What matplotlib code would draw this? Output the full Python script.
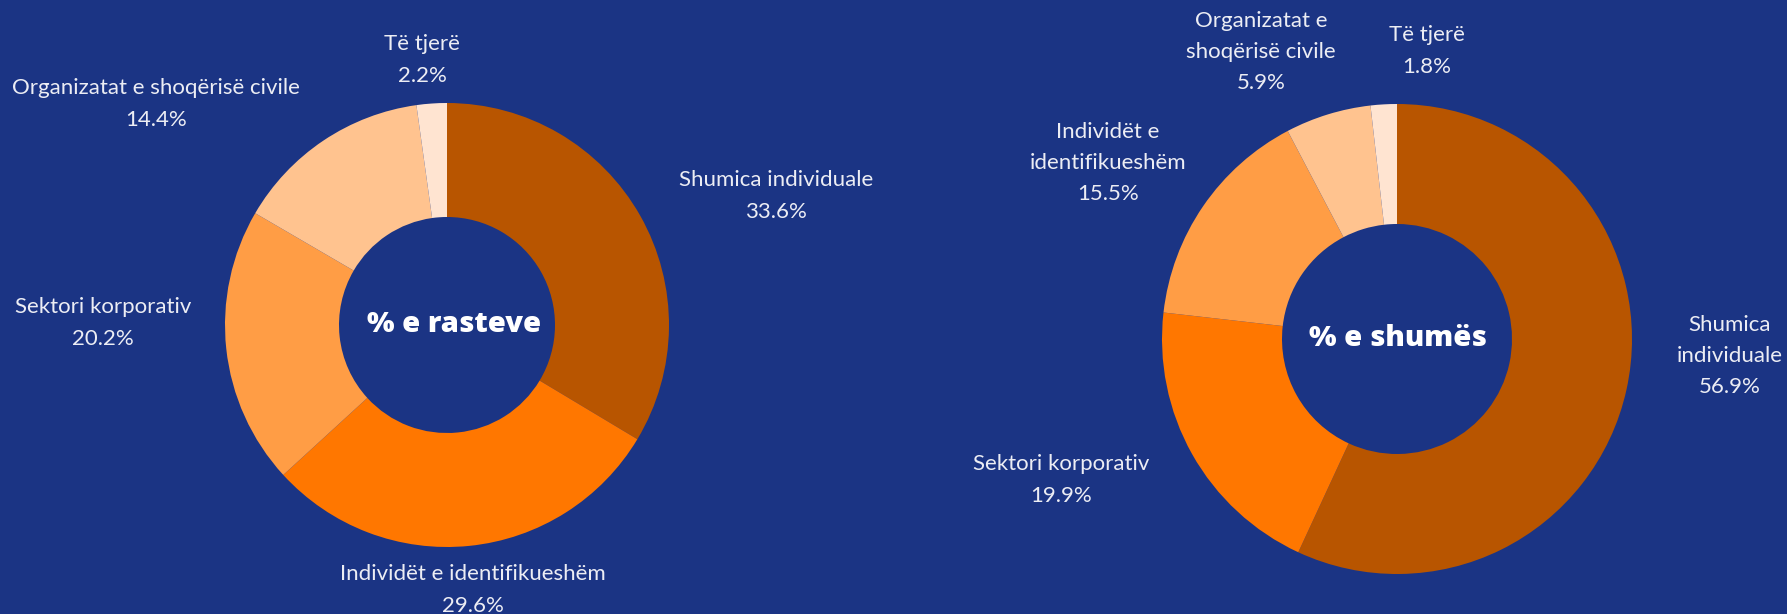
import matplotlib.pyplot as plt

# values
cases_labels = ['Shumica individuale', 'Individët e identifikueshëm', 'Sektori korporativ',
                'Organizatat e shoqërisë civile', 'Të tjerë']
cases_values = [33.6, 29.6, 20.2, 14.4, 2.2]

amount_labels = ['Shumica\nindividuale', 'Sektori korporativ', 'Individët e\nidentifikueshëm',
                 'Organizatat e\nshoqërisë civile', 'Të tjerë']
amount_values = [56.9, 19.9, 15.5, 5.9, 1.8]

center_titles = ['% e rasteve', '% e shumës']

BG = '#1b3484'
TXT = '#ecedf4'
COLORS = ['#b85500', '#ff7700', '#ff9d45', '#ffc38f', '#ffe4d1']
W, H = 1787, 614

# layout in pixels, y from the top; label offsets relative to the donut centre
charts = [
    dict(labels=cases_labels, values=cases_values, title=center_titles[0],
         cx=447, cy=325, r=222, hole=108, tdx=7,
         offs=[(329, -129), (26, 265), (-344, -2), (-291, -221), (-25, -265)]),
    dict(labels=amount_labels, values=amount_values, title=center_titles[1],
         cx=1397, cy=339, r=235, hole=115, tdx=1,
         offs=[(333, 17), (-336, 141), (-289, -176), (-136, -287), (30, -288)]),
]

fig = plt.figure(figsize=(W / 100, H / 100), dpi=100, facecolor=BG)
ax = fig.add_axes([0, 0, 1, 1])
ax.set_facecolor(BG)

for c in charts:
    center = (c['cx'], H - c['cy'])
    ax.pie(c['values'], colors=COLORS, startangle=90, counterclock=False,
           center=center, radius=c['r'],
           wedgeprops=dict(width=c['r'] - c['hole'], linewidth=0))
    ax.text(center[0] + c['tdx'], center[1], c['title'], ha='center', va='center',
            color='white', fontsize=21, fontweight='heavy', family=['Open Sans', 'DejaVu Sans'])
    for lab, val, (dx, dy) in zip(c['labels'], c['values'], c['offs']):
        ax.text(center[0] + dx, center[1] - dy, f'{lab}\n{val}%', ha='center', va='center',
                multialignment='center', linespacing=1.7, color=TXT, fontsize=16,
                family=['Lato', 'DejaVu Sans'])

ax.set_xlim(0, W)
ax.set_ylim(0, H)
ax.set_aspect('equal')
ax.axis('off')

fig.savefig('out.png', dpi=100, facecolor=BG)
